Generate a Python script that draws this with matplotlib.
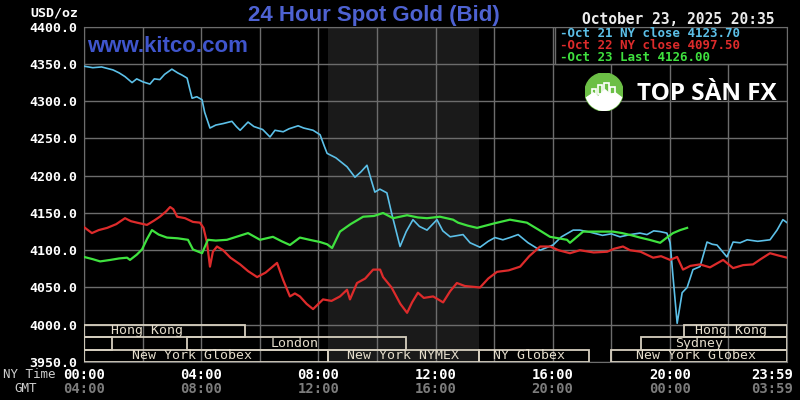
import numpy as np
import matplotlib.pyplot as plt
from matplotlib.patches import Rectangle, Circle, Polygon

# hours after NY midnight, price in USD/oz
blue_pts = [(0.0, 4347), (0.3, 4345), (0.6, 4346), (0.99, 4342), (1.2, 4338), (1.4, 4333), (1.64, 4325),
            (1.8, 4330), (2.01, 4326), (2.25, 4323), (2.4, 4330), (2.59, 4329), (2.75, 4336), (3.0, 4343),
            (3.2, 4338), (3.35, 4335), (3.52, 4331), (3.6, 4318), (3.69, 4304), (3.85, 4306), (4.03, 4302),
            (4.12, 4285), (4.3, 4264), (4.5, 4268), (4.75, 4270), (5.05, 4273), (5.2, 4266), (5.33, 4261),
            (5.6, 4272), (5.8, 4266), (6.1, 4262), (6.35, 4252), (6.52, 4261), (6.8, 4259), (7.0, 4263),
            (7.31, 4267), (7.5, 4264), (7.82, 4261), (8.06, 4255), (8.2, 4240), (8.3, 4230), (8.6, 4224),
            (8.98, 4212), (9.25, 4198), (9.45, 4205), (9.66, 4214), (9.8, 4195), (9.93, 4178), (10.1, 4182),
            (10.34, 4177), (10.5, 4150), (10.79, 4105), (11.0, 4125), (11.23, 4141), (11.45, 4132),
            (11.71, 4127), (12.05, 4141), (12.25, 4126), (12.5, 4118), (12.94, 4121), (13.18, 4110),
            (13.52, 4104), (13.8, 4112), (14.03, 4117), (14.3, 4114), (14.54, 4117), (14.82, 4121),
            (15.16, 4110), (15.57, 4100), (16.01, 4107), (16.3, 4118), (16.7, 4127), (16.93, 4127),
            (17.3, 4124), (17.7, 4120), (18.0, 4122), (18.3, 4118), (18.64, 4121), (18.98, 4123),
            (19.22, 4121), (19.45, 4126), (19.67, 4125), (19.9, 4123), (20.01, 4110), (20.11, 4064),
            (20.25, 4002), (20.42, 4043), (20.59, 4050), (20.79, 4074), (21.03, 4078), (21.27, 4111),
            (21.45, 4108), (21.61, 4107), (21.95, 4091), (22.16, 4111), (22.4, 4110), (22.64, 4114),
            (23.0, 4112), (23.42, 4114), (23.66, 4127), (23.86, 4141), (24.0, 4137)]

red_pts = [(0.0, 4131), (0.27, 4123), (0.5, 4127), (0.79, 4130), (1.1, 4135), (1.4, 4143), (1.6, 4139),
           (1.81, 4137), (2.15, 4134), (2.4, 4140), (2.59, 4145), (2.8, 4152), (2.94, 4158), (3.05, 4155),
           (3.18, 4145), (3.45, 4143), (3.72, 4138), (3.96, 4137), (4.08, 4130), (4.2, 4110), (4.3, 4078),
           (4.4, 4098), (4.54, 4105), (4.75, 4100), (5.0, 4090), (5.33, 4081), (5.6, 4072), (5.91, 4064),
           (6.2, 4070), (6.59, 4083), (6.8, 4060), (7.03, 4038), (7.2, 4042), (7.37, 4038), (7.6, 4028),
           (7.82, 4021), (8.16, 4034), (8.45, 4032), (8.74, 4038), (8.98, 4047), (9.08, 4034), (9.32, 4056),
           (9.6, 4062), (9.87, 4074), (10.11, 4074), (10.21, 4064), (10.5, 4050), (10.8, 4028), (11.03, 4016),
           (11.2, 4030), (11.4, 4043), (11.6, 4036), (11.92, 4038), (12.26, 4030), (12.5, 4045), (12.73, 4056),
           (13.0, 4052), (13.52, 4050), (13.8, 4062), (14.1, 4071), (14.5, 4073), (14.89, 4078), (15.2, 4092),
           (15.57, 4105), (15.91, 4105), (16.2, 4100), (16.59, 4096), (16.93, 4100), (17.4, 4097),
           (17.86, 4098), (18.1, 4102), (18.4, 4105), (18.64, 4100), (19.0, 4098), (19.43, 4090), (19.7, 4092),
           (20.01, 4087), (20.25, 4091), (20.45, 4074), (20.7, 4079), (21.03, 4081), (21.37, 4077),
           (21.82, 4087), (22.16, 4076), (22.5, 4080), (22.84, 4081), (23.1, 4088), (23.42, 4096),
           (23.7, 4093), (24.0, 4090)]

green_pts = [(0.0, 4091), (0.3, 4088), (0.55, 4085), (0.9, 4087), (1.2, 4089), (1.47, 4090), (1.57, 4087),
             (1.8, 4094), (1.98, 4101), (2.15, 4115), (2.32, 4127), (2.55, 4121), (2.83, 4117), (3.2, 4116),
             (3.55, 4114), (3.72, 4101), (4.03, 4096), (4.23, 4114), (4.5, 4113), (4.88, 4114), (5.2, 4118),
             (5.6, 4123), (6.01, 4114), (6.45, 4118), (6.75, 4112), (7.03, 4107), (7.37, 4117), (7.7, 4114),
             (8.06, 4111), (8.3, 4108), (8.47, 4103), (8.74, 4125), (9.1, 4135), (9.53, 4145), (9.9, 4146),
             (10.21, 4150), (10.55, 4143), (11.03, 4147), (11.4, 4144), (11.71, 4143), (12.15, 4145),
             (12.6, 4141), (12.77, 4137), (13.1, 4133), (13.42, 4130), (14.0, 4136), (14.54, 4141),
             (15.12, 4137), (15.5, 4128), (15.91, 4118), (16.2, 4116), (16.49, 4114), (16.59, 4110),
             (17.04, 4125), (18.06, 4125), (18.37, 4123), (18.7, 4120), (18.98, 4117), (19.3, 4114),
             (19.67, 4110), (19.9, 4117), (20.11, 4123), (20.35, 4127), (20.59, 4130)]

series_labels = ['Oct 21 NY close 4123.70', 'Oct 22 NY close 4097.50', 'Oct 23 Last 4126.00']
series_colors = ['#5cc0e8', '#dd2b2b', '#3fe23f']

price_ticks = np.arange(3950, 4401, 50)
ny_labels = ['00:00', '04:00', '08:00', '12:00', '16:00', '20:00', '23:59']
gmt_labels = ['04:00', '08:00', '12:00', '16:00', '20:00', '00:00', '03:59']
label_hours = [0, 4, 8, 12, 16, 20, 23.5]

# trading sessions: row (0 top), start, end, name, label centre
sessions = [(0, 0, 5.5, 'Hong Kong', 2.15), (0, 20.5, 24, 'Hong Kong', 22.1),
            (1, 0, 0.95, '', 0), (1, 3.5, 11.0, 'London', 7.2), (1, 19.0, 24, 'Sydney', 21.0),
            (2, 0, 8.33, 'New York Globex', 3.7), (2, 8.33, 13.5, 'New York NYMEX', 10.9),
            (2, 13.5, 17.25, 'NY Globex', 15.2), (2, 18.0, 24, 'New York Globex', 20.9)]
nymex = (8.33, 13.5)

mono = 'DejaVu Sans Mono'
grid_c = '#6c6c6c'

fig = plt.figure(figsize=(8, 4), dpi=100, facecolor='black')
ax = fig.add_axes([84 / 800, 38 / 400, 703 / 800, 335.3 / 400])
ax.set_facecolor('black')
ax.set_xlim(0, 24)
ax.set_ylim(3950, 4400)

ax.axvspan(*nymex, color='#1a1a1a', zorder=0, lw=0)
for h in np.arange(0, 25, 2):
    ax.axvline(h, color=grid_c, lw=1, zorder=1)
for p in price_ticks:
    ax.axhline(p, color=grid_c, lw=1, zorder=1)
for s in ax.spines.values():
    s.set_color(grid_c)

for pts, c, lw in zip([blue_pts, red_pts, green_pts], series_colors, [1.2, 1.6, 1.6]):
    hh, pp = zip(*pts)
    ax.plot(hh, pp, color=c, lw=lw, zorder=3)

ax.set_xticks([])
ax.set_yticks(price_ticks)
ax.set_yticklabels(['%.1f' % p for p in price_ticks], color='white', fontfamily=mono,
                   fontweight='bold', fontsize=9.5)
ax.tick_params(axis='y', length=0, pad=5)

# session boxes
row_h = 50 / 3
for row, start, end, name, cx in sessions:
    y0 = 4000 - (row + 1) * row_h
    ax.add_patch(Rectangle((start, y0), end - start, row_h, fill=False,
                           edgecolor='#d6cfbf', lw=1.3, zorder=4))
    if name:
        ax.text(cx, y0 + row_h / 2, name, color='#e4dccb', fontfamily=mono,
                fontsize=9.5, ha='center', va='center', zorder=5)

# legend box
ax.add_patch(Rectangle((16.08, 4350), 7.92, 50, facecolor='black', edgecolor=grid_c, lw=1, zorder=4))
for i, (lab, c) in enumerate(zip(series_labels, series_colors)):
    ax.text(16.25, 4391.5 - i * 16.1, '-' + lab, color=c, fontfamily=mono, fontweight='bold',
            fontsize=9, va='center', ha='left', zorder=5)

# titles
fig.text(374 / 800, 1 - 15 / 400, '24 Hour Spot Gold (Bid)', color='#4e62d2', fontsize=16,
         fontweight='bold', fontfamily='Liberation Sans', ha='center', va='center')
fig.text(87 / 800, 1 - 47 / 400, 'www.kitco.com', color='#3f55cc', fontsize=16,
         fontweight='bold', fontfamily='Liberation Sans', ha='left', va='center')
fig.text(775 / 800, 1 - 19 / 400, 'October 23, 2025 20:35', color='#ececec', fontsize=10.5,
         fontweight='bold', fontfamily=mono, ha='right', va='center')
fig.text(78 / 800, 1 - 13 / 400, 'USD/oz', color='white', fontsize=9.5, fontweight='bold',
         fontfamily=mono, ha='right', va='center')

# time axis
fig.text(3 / 800, 1 - 375 / 400, 'NY Time', color='#cfcfcf', fontsize=9, fontfamily=mono,
         ha='left', va='center')
fig.text(14 / 800, 1 - 389 / 400, 'GMT', color='#cfcfcf', fontsize=9, fontfamily=mono,
         ha='left', va='center')
for h, ny, gmt in zip(label_hours, ny_labels, gmt_labels):
    x = (84 + h * 703 / 24) / 800
    fig.text(x, 1 - 375 / 400, ny, color='white', fontsize=10, fontweight='bold',
             fontfamily=mono, ha='center', va='center')
    fig.text(x, 1 - 389 / 400, gmt, color='#7c7c7c', fontsize=10, fontweight='bold',
             fontfamily=mono, ha='center', va='center')

# watermark logo
lg = fig.add_axes([585 / 800, 1 - 111 / 400, 38 / 800, 38 / 400])
lg.set_xlim(-1, 1)
lg.set_ylim(-1, 1)
lg.axis('off')
circ = Circle((0, 0), 1, color='#6cbf46')
lg.add_patch(circ)
for bx, bh in [(-0.62, 0.25), (-0.3, 0.45), (0.02, 0.6), (0.34, 0.35)]:
    lg.add_patch(Rectangle((bx, -0.1), 0.22, bh, fill=False, edgecolor='white', lw=1.2))
mt = Polygon([(-1, -0.35), (-0.55, -0.05), (-0.3, -0.25), (0.05, 0.12), (0.35, -0.15),
              (0.6, -0.05), (1, -0.35), (1, -1), (-1, -1)], closed=True, color='white')
lg.add_patch(mt)
mt.set_clip_path(circ)
fig.text(637 / 800, 1 - 94 / 400, 'TOP SÀN FX', color='white', fontsize=17.5, fontweight='bold',
         fontfamily='Open Sans', ha='left', va='center')

fig.savefig('out.png', dpi=100, facecolor='black')
